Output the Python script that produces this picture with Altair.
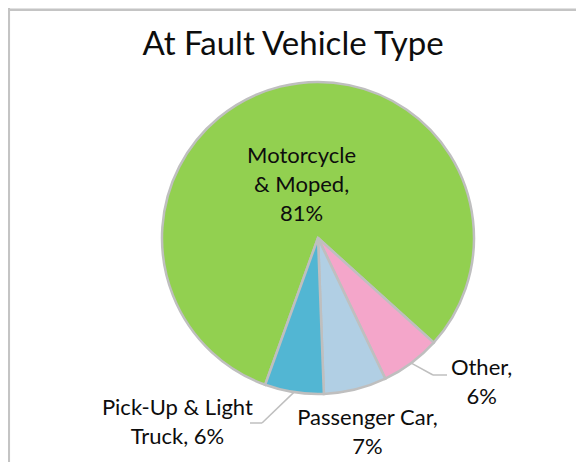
import math
import altair as alt
import pandas as pd

# ---- data ----
categories = ["Motorcycle & Moped", "Other", "Passenger Car", "Pick-Up & Light Truck"]
shares = [81.2, 6.2, 6.5, 6.1]
label_templates = ["Motorcycle\n& Moped,\n{p}", "Other,\n{p}", "Passenger Car,\n{p}", "Pick-Up & Light\nTruck, {p}"]
colors = ["#92D050", "#F4A6CA", "#B1CFE4", "#52B6D3"]
title_text = "At Fault Vehicle Type"

# ---- layout / style ----
W, H = 568, 454
CX, CY = 310, 230          # pie centre inside the view
R = 156
START_DEG = 199.8          # first slice starts here (clockwise from 12 o'clock)
FONT = "Lato"
TEXT_COLOR = "#0d0d0d"
EDGE = "#BFBFBF"

total = sum(shares)
start_rad = math.radians(START_DEG)

labels = [t.format(p=f"{int(v / total * 100 + 0.5)}%") for t, v in zip(label_templates, shares)]
df = pd.DataFrame({"cat": categories, "value": shares, "idx": list(range(len(shares))), "label": labels})

theta_scale = alt.Scale(domain=[0, total], range=[start_rad, start_rad + 2 * math.pi])
color_scale = alt.Scale(domain=categories, range=colors)

base = alt.Chart(df).transform_window(
    cum="sum(value)", sort=[alt.SortField("idx")], frame=[None, 0]
).transform_calculate(
    start="datum.cum - datum.value", mid="datum.cum - datum.value / 2"
)

pie = base.mark_arc(radius=R, stroke=EDGE, strokeWidth=2.5).encode(
    theta=alt.Theta("start:Q", scale=theta_scale),
    theta2="cum:Q",
    color=alt.Color("cat:N", scale=color_scale, legend=None),
    x=alt.value(CX), y=alt.value(CY),
)

# per-label placement: (label radius, dx, dy)
placement = {
    "Motorcycle & Moped": (80, 3, 3),
    "Other": (170, 62, 1),
    "Passenger Car": (190, 4, 3),
    "Pick-Up & Light Truck": (180, -113, -1),
}

text_layers = []
for cat in categories:
    r, dx, dy = placement[cat]
    text_layers.append(
        base.transform_filter(alt.datum.cat == cat).mark_text(
            radius=r, dx=dx, dy=dy, align="center", baseline="alphabetic",
            lineBreak="\n", lineHeight=29, fontSize=22, font=FONT, color=TEXT_COLOR,
        ).encode(
            theta=alt.Theta("mid:Q", scale=theta_scale),
            text="label:N",
            x=alt.value(CX), y=alt.value(CY),
        )
    )

# leader lines: start on the slice edge at its mid angle
def mid_point(i):
    cum = sum(shares[:i]) + shares[i] / 2
    a = start_rad + 2 * math.pi * cum / total
    return CX + R * math.sin(a), CY - R * math.cos(a)

leaders = []
ox, oy = mid_point(1)
leaders += [(ox, oy, 425, 367), (425, 367, 439, 367)]
px, py = mid_point(3)
leaders += [(px, py, 254, 415), (254, 415, 242, 415)]

dummy = pd.DataFrame({"k": [0]})
leader_layers = [
    alt.Chart(dummy).mark_rule(color=EDGE, strokeWidth=1.5).encode(
        x=alt.value(a), y=alt.value(b), x2=alt.value(c), y2=alt.value(d)
    )
    for a, b, c, d in leaders
]

border = [
    alt.Chart(dummy).mark_rule(color="#C4C4C4", strokeWidth=2.5).encode(
        x=alt.value(0.8), y=alt.value(0), y2=alt.value(H + 20)
    ),
    alt.Chart(dummy).mark_rule(color="#C4C4C4", strokeWidth=2.5).encode(
        x=alt.value(0), x2=alt.value(W + 20), y=alt.value(1.8)
    ),
]

title = alt.Chart(dummy).mark_text(
    text=title_text, fontSize=33, font=FONT, color=TEXT_COLOR, align="center", baseline="alphabetic"
).encode(x=alt.value(285), y=alt.value(47))

chart = alt.layer(pie, *leader_layers, *text_layers, title, *border).properties(
    width=W, height=H, padding=0, autosize=alt.AutoSizeParams(type="none")
).configure_view(stroke=None)

chart.save("out.html", embed_options={"renderer": "svg", "actions": False})
